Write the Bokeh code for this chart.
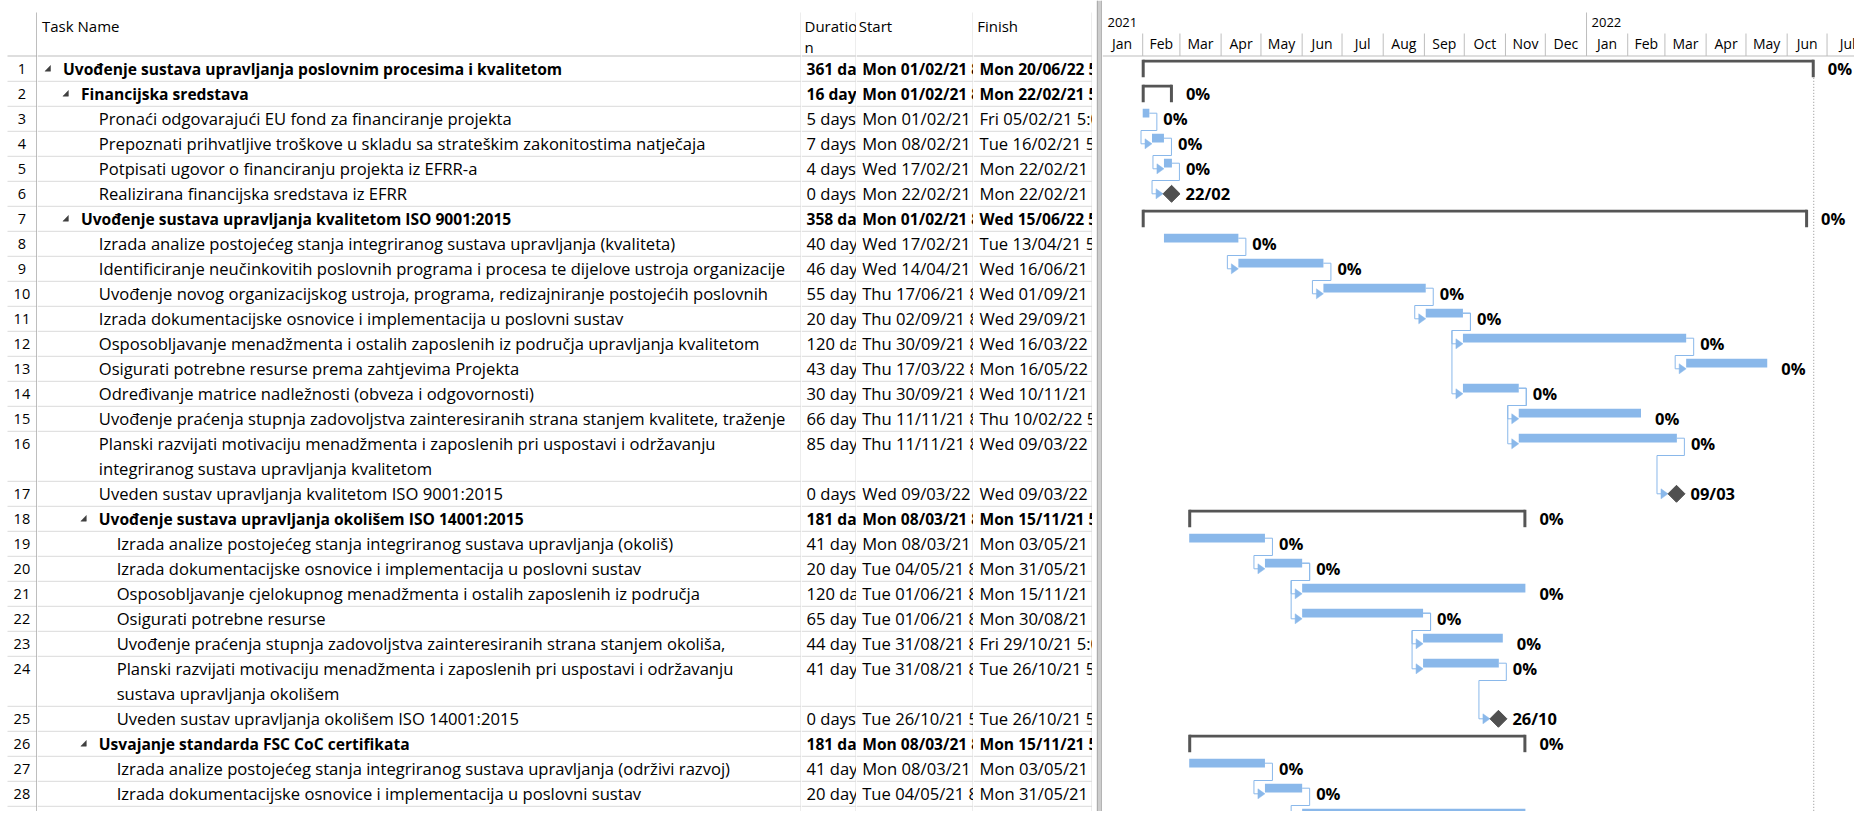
import pandas as pd
from bokeh.plotting import figure
from bokeh.models import Range1d, ColumnDataSource
from bokeh.layouts import row
from bokeh.core.properties import value
from bokeh.embed import file_html
from bokeh.resources import INLINE

# ---------------- data ----------------
task_names = [
    "Uvođenje sustava upravljanja poslovnim procesima i kvalitetom",
    "Financijska sredstava",
    "Pronaći odgovarajući EU fond za financiranje projekta",
    "Prepoznati prihvatljive troškove u skladu sa strateškim zakonitostima natječaja",
    "Potpisati ugovor o financiranju projekta iz EFRR-a",
    "Realizirana financijska sredstava iz EFRR",
    "Uvođenje sustava upravljanja kvalitetom ISO 9001:2015",
    "Izrada analize postojećeg stanja integriranog sustava upravljanja (kvaliteta)",
    "Identificiranje neučinkovitih poslovnih programa i procesa te dijelove ustroja organizacije",
    "Uvođenje novog organizacijskog ustroja, programa, redizajniranje postojećih poslovnih",
    "Izrada dokumentacijske osnovice i implementacija u poslovni sustav",
    "Osposobljavanje menadžmenta i ostalih zaposlenih iz područja upravljanja kvalitetom",
    "Osigurati potrebne resurse prema zahtjevima Projekta",
    "Određivanje matrice nadležnosti (obveza i odgovornosti)",
    "Uvođenje praćenja stupnja zadovoljstva zainteresiranih strana stanjem kvalitete, traženje",
    "Planski razvijati motivaciju menadžmenta i zaposlenih pri uspostavi i održavanju\nintegriranog sustava upravljanja kvalitetom",
    "Uveden sustav upravljanja kvalitetom ISO 9001:2015",
    "Uvođenje sustava upravljanja okolišem ISO 14001:2015",
    "Izrada analize postojećeg stanja integriranog sustava upravljanja (okoliš)",
    "Izrada dokumentacijske osnovice i implementacija u poslovni sustav",
    "Osposobljavanje cjelokupnog menadžmenta i ostalih zaposlenih iz područja",
    "Osigurati potrebne resurse",
    "Uvođenje praćenja stupnja zadovoljstva zainteresiranih strana stanjem okoliša,",
    "Planski razvijati motivaciju menadžmenta i zaposlenih pri uspostavi i održavanju\nsustava upravljanja okolišem",
    "Uveden sustav upravljanja okolišem ISO 14001:2015",
    "Usvajanje standarda FSC CoC certifikata",
    "Izrada analize postojećeg stanja integriranog sustava upravljanja (održivi razvoj)",
    "Izrada dokumentacijske osnovice i implementacija u poslovni sustav",
    "Osposobljavanje cjelokupnog menadžmenta i ostalih zaposlenih iz područja održivog",
]
outline_levels = [1, 2, 3, 3, 3, 3, 2, 3, 3, 3, 3, 3, 3, 3, 3, 3, 3, 3,
                  4, 4, 4, 4, 4, 4, 4, 3, 4, 4, 4]
task_types = ["summary", "summary", "task", "task", "task", "milestone",
              "summary", "task", "task", "task", "task", "task", "task",
              "task", "task", "task", "milestone", "summary", "task", "task",
              "task", "task", "task", "task", "milestone", "summary", "task",
              "task", "task"]
durations_days = [361, 16, 5, 7, 4, 0, 358, 40, 46, 55, 20, 120, 43, 30, 66,
                  85, 0, 181, 41, 20, 120, 65, 44, 41, 0, 181, 41, 20, 120]
start_dates = ["2021-02-01", "2021-02-01", "2021-02-01", "2021-02-08",
               "2021-02-17", "2021-02-22", "2021-02-01", "2021-02-17",
               "2021-04-14", "2021-06-17", "2021-09-02", "2021-09-30",
               "2022-03-17", "2021-09-30", "2021-11-11", "2021-11-11",
               "2022-03-09", "2021-03-08", "2021-03-08", "2021-05-04",
               "2021-06-01", "2021-06-01", "2021-08-31", "2021-08-31",
               "2021-10-26", "2021-03-08", "2021-03-08", "2021-05-04",
               "2021-06-01"]
finish_dates = ["2022-06-20", "2021-02-22", "2021-02-05", "2021-02-16",
                "2021-02-22", "2021-02-22", "2022-06-15", "2021-04-13",
                "2021-06-16", "2021-09-01", "2021-09-29", "2022-03-16",
                "2022-05-16", "2021-11-10", "2022-02-10", "2022-03-09",
                "2022-03-09", "2021-11-15", "2021-05-03", "2021-05-31",
                "2021-11-15", "2021-08-30", "2021-10-29", "2021-10-26",
                "2021-10-26", "2021-11-15", "2021-05-03", "2021-05-31",
                "2021-11-15"]
percent_complete = [0, 0, 0, 0, 0, 0, 0, 0, 0, 0, 0, 0, 0, 0, 0, 0, 0, 0, 0,
                    0, 0, 0, 0, 0, 0, 0, 0, 0, 0]
links = [(3, 4), (4, 5), (5, 6), (8, 9), (9, 10), (10, 11), (11, 12),
         (11, 14), (12, 13), (14, 15), (14, 16), (16, 17), (19, 20),
         (20, 21), (20, 22), (22, 23), (22, 24), (24, 25), (27, 28),
         (28, 29)]
column_titles = ["Task Name", "Duratio\nn", "Start", "Finish"]
timescale_first_month = "2021-01-01"
timescale_last_month = "2022-07-01"

# ---------------- styling / layout ----------------
FONT = value("Open Sans")
TXT = "#000000"
GRID = "#DADADA"
HEAD_LINE = "#BDBDBD"
BAR = "#8AB8EA"
SUMMARY = "#555555"
SIZE_REG, SIZE_BOLD = "16.6px", "15.6px"
TOP, BOTTOM = 0, 811
H = BOTTOM - TOP
HEADER_BOTTOM = 55.5
LINE_H = 25.0
HEADER_TOP = 12

n = len(task_names)
ids = list(range(1, n + 1))
n_lines = [s.count("\n") + 1 for s in task_names]
row_top = []
t = HEADER_BOTTOM + 0.3
for k in n_lines:
    row_top.append(t)
    t += k * LINE_H
row_mid = [rt + LINE_H / 2 for rt in row_top]
row_bot = [rt + k * LINE_H for rt, k in zip(row_top, n_lines)]
styles = ["bold" if tt == "summary" else "normal" for tt in task_types]
sizes = [SIZE_BOLD if tt == "summary" else SIZE_REG for tt in task_types]

starts = [pd.Timestamp(s) for s in start_dates]
finishes = [pd.Timestamp(s) for s in finish_dates]


def make_fig(x0, x1, xr=None):
    p = figure(width=int(round(x1 - x0)), height=H,
               x_range=xr if xr is not None else Range1d(x0, x1),
               y_range=Range1d(BOTTOM, TOP),
               toolbar_location=None, output_backend="svg",
               x_axis_location=None, y_axis_location=None,
               min_border=0, min_border_left=0, min_border_right=0,
               min_border_top=0, min_border_bottom=0,
               outline_line_color=None, background_fill_color="white",
               border_fill_color="white")
    p.grid.grid_line_color = None
    return p


def table_grid(p, x0, x1, right_color=GRID, right_w=1):
    p.segment(x0=[x0] * n, x1=[x1] * n, y0=row_bot, y1=row_bot,
              line_color=GRID, line_width=1)
    p.segment(x0=[x0], x1=[x1], y0=[HEADER_BOTTOM], y1=[HEADER_BOTTOM],
              line_color=HEAD_LINE, line_width=1)
    p.segment(x0=[x1 - 0.5], x1=[x1 - 0.5], y0=[HEADER_TOP], y1=[BOTTOM],
              line_color=right_color, line_width=right_w)


def cell_texts(p, x, texts):
    xs, ys, tx, st, sz = [], [], [], [], []
    for i, s in enumerate(texts):
        for j, line in enumerate(s.split("\n")):
            xs.append(x[i] if isinstance(x, list) else x)
            ys.append(row_mid[i] + j * LINE_H)
            tx.append(line)
            st.append(styles[i])
            sz.append(sizes[i])
    src = ColumnDataSource(dict(x=xs, y=ys, text=tx, style=st, size=sz))
    p.text(x="x", y="y", text="text", source=src, text_font=FONT,
           text_font_size="size", text_font_style="style", text_color=TXT,
           text_baseline="middle", text_align="left")


def header_text(p, x, ys, texts):
    p.text(x=[x] * len(texts), y=ys, text=texts, text_font=FONT,
           text_font_size="15px", text_color=TXT, text_baseline="middle")


figs = []

# --- row number column ---
c0 = make_fig(0, 37)
table_grid(c0, 7, 37, right_color="#A8A8A8", right_w=1.5)
c0.text(x=[21.4] * n, y=row_mid, text=[str(i) for i in ids],
        text_font=FONT, text_font_size="14.5px", text_color=TXT,
        text_baseline="middle", text_align="center")
figs.append(c0)

# --- task name column ---
c1 = make_fig(37, 801)
table_grid(c1, 37, 801)
name_x = [62.5 + (lv - 1) * 17.9 for lv in outline_levels]
cell_texts(c1, name_x, task_names)
tri_xs, tri_ys = [], []
for i, tt in enumerate(task_types):
    if tt == "summary":
        xr_ = name_x[i] - 12.5
        m = row_mid[i]
        tri_xs.append([xr_, xr_, xr_ - 5.5])
        tri_ys.append([m - 3.3, m + 2.4, m + 2.4])
c1.patches(xs=tri_xs, ys=tri_ys, fill_color="#404040", line_color="#404040",
           line_width=0.5)
header_text(c1, 41.5, [25], [column_titles[0]])
figs.append(c1)

# --- duration column ---
c2 = make_fig(801, 856)
table_grid(c2, 801, 856)
cell_texts(c2, 806, [f"{d} days" for d in durations_days])
header_text(c2, 804, [25, 46.7], column_titles[1].split("\n"))
figs.append(c2)

# --- start column ---
c3 = make_fig(856, 973)
table_grid(c3, 856, 973)
start_txt = [f"{s:%a %d/%m/%y} " + ("5:00 PM" if tt == "milestone" else "8:00 AM")
             for s, tt in zip(starts, task_types)]
cell_texts(c3, 861.7, start_txt)
header_text(c3, 858.3, [25], [column_titles[2]])
figs.append(c3)

# --- finish column ---
c4 = make_fig(973, 1092)
table_grid(c4, 973, 1092)
finish_txt = [f"{f:%a %d/%m/%y} 5:00 PM" for f in finishes]
cell_texts(c4, 979, finish_txt)
header_text(c4, 976.7, [25], [column_titles[3]])
figs.append(c4)

# --- splitter ---
sp = make_fig(1092, 1102)
sp.quad(left=[1096.5], right=[1101.5], top=[TOP], bottom=[BOTTOM],
        fill_color="#CDCDCD", line_color=None)
sp.segment(x0=[1096.8, 1101.4], x1=[1096.8, 1101.4], y0=[TOP, TOP],
           y1=[BOTTOM, BOTTOM], line_color="#A5A5A5", line_width=1)
figs.append(sp)

# --- gantt ---
G0, G1 = 1102, 1854
px_per_day = 1.3288
anchor = pd.Timestamp("2021-02-01")
anchor_ref = 1142.2
EPOCH = pd.Timestamp("1970-01-01")


def ms(ts):
    return (ts - EPOCH) / pd.Timedelta(milliseconds=1)


gx0 = anchor - pd.Timedelta(days=(anchor_ref - G0) / px_per_day)
gx1 = anchor + pd.Timedelta(days=(G1 - anchor_ref) / px_per_day)
g = make_fig(G0, G1, xr=Range1d(ms(gx0), ms(gx1)))
PX = (ms(gx1) - ms(gx0)) / (G1 - G0)  # ms per screen pixel
DAY = pd.Timedelta(days=1)

# timescale header
months = pd.date_range(timescale_first_month, timescale_last_month, freq="MS")
m_start = [ms(m) for m in months]
m_end = [ms(m + pd.offsets.MonthBegin(1)) for m in months]
g.text(x=[(a + b) / 2 for a, b in zip(m_start, m_end)], y=[43.3] * len(months),
       text=[f"{m:%b}" for m in months], text_font=FONT,
       text_font_size="14px", text_color=TXT, text_align="center",
       text_baseline="middle")
g.segment(x0=m_end, x1=m_end, y0=[33] * len(m_end), y1=[HEADER_BOTTOM] * len(m_end),
          line_color="#BEBEBE", line_width=1)
years = sorted(set(m.year for m in months))
y_x = [max(ms(pd.Timestamp(f"{yv}-01-01")), ms(gx0)) for yv in years]
g.text(x=y_x, y=[21.7] * len(years), text=[str(yv) for yv in years],
       text_font=FONT, text_font_size="13px", text_color=TXT,
       text_baseline="middle", x_offset=5)
yb = [ms(pd.Timestamp(f"{yv}-01-01")) for yv in years[1:]]
g.segment(x0=yb, x1=yb, y0=[HEADER_TOP] * len(yb), y1=[HEADER_BOTTOM] * len(yb),
          line_color="#BEBEBE", line_width=1)
g.segment(x0=[ms(gx0)], x1=[ms(gx1)], y0=[HEADER_BOTTOM], y1=[HEADER_BOTTOM],
          line_color=HEAD_LINE, line_width=1)

# project finish dotted line
proj_end = ms(finishes[0] + DAY)
g.segment(x0=[proj_end], x1=[proj_end], y0=[row_mid[0] + 9], y1=[BOTTOM],
          line_color="#8F8F8F", line_width=1, line_dash="1 2")

# positions of each task on the time scale
bar_l = [ms(s) for s in starts]
bar_r = [ms(f + DAY) for f in finishes]
mile_x = [ms(f + pd.Timedelta(hours=17)) for f in finishes]

# connectors
cx, cy, ax, ay = [], [], [], []
for a, b in links:
    i, j = a - 1, b - 1
    x_from = bar_r[i]
    y_bar = row_mid[i] - 5.6
    x_out = x_from + 7.5 * PX
    y_turn = row_mid[i] + 11.7
    tgt = mile_x[j] - 8.5 * PX if task_types[j] == "milestone" else bar_l[j]
    x_v = tgt - 11 * PX
    yc = row_mid[j]
    cx.append([x_from, x_out, x_out, x_v, x_v, tgt - 6 * PX])
    cy.append([y_bar, y_bar, y_turn, y_turn, yc, yc])
    ax.append([tgt, tgt - 7 * PX, tgt - 7 * PX])
    ay.append([yc, yc - 5, yc + 5])
g.multi_line(xs=cx, ys=cy, line_color=BAR, line_width=1)
g.patches(xs=ax, ys=ay, fill_color=BAR, line_color=BAR, line_width=0.5)

# normal task bars
ti = [i for i, tt in enumerate(task_types) if tt == "task"]
g.quad(left=[bar_l[i] for i in ti], right=[bar_r[i] for i in ti],
       top=[row_mid[i] - 10 for i in ti], bottom=[row_mid[i] - 1.2 for i in ti],
       fill_color=BAR, line_color=None)

# summary brackets
si = [i for i, tt in enumerate(task_types) if tt == "summary"]
g.quad(left=[bar_l[i] for i in si], right=[bar_r[i] for i in si],
       top=[row_mid[i] - 9 for i in si], bottom=[row_mid[i] - 6.2 for i in si],
       fill_color=SUMMARY, line_color=None)
g.quad(left=[bar_l[i] - 1 * PX for i in si], right=[bar_l[i] + 2 * PX for i in si],
       top=[row_mid[i] - 9 for i in si], bottom=[row_mid[i] + 8.4 for i in si],
       fill_color=SUMMARY, line_color=None)
g.quad(left=[bar_r[i] - 2 * PX for i in si], right=[bar_r[i] + 1 * PX for i in si],
       top=[row_mid[i] - 9 for i in si], bottom=[row_mid[i] + 8.4 for i in si],
       fill_color=SUMMARY, line_color=None)

# milestones
mi = [i for i, tt in enumerate(task_types) if tt == "milestone"]
g.scatter(x=[mile_x[i] for i in mi], y=[row_mid[i] for i in mi], marker="square",
          angle=0.785398, size=12, fill_color="#505050", line_color="#505050")

# labels
lab_x, lab_t, lab_y, lab_o = [], [], [], []
for i, tt in enumerate(task_types):
    if tt == "milestone":
        lab_x.append(mile_x[i]); lab_t.append(f"{finishes[i]:%d/%m}"); lab_o.append(14)
    else:
        lab_x.append(bar_r[i]); lab_t.append(f"{percent_complete[i]}%"); lab_o.append(14)
    lab_y.append(row_mid[i])
lsrc = ColumnDataSource(dict(x=lab_x, y=lab_y, text=lab_t, off=lab_o))
g.text(x="x", y="y", text="text", x_offset="off", source=lsrc, text_font=FONT,
       text_font_size="16.5px", text_font_style="bold", text_color=TXT,
       text_baseline="middle")
figs.append(g)

layout = row(*figs, spacing=0)
open("out.html", "w").write(file_html(layout, INLINE))
